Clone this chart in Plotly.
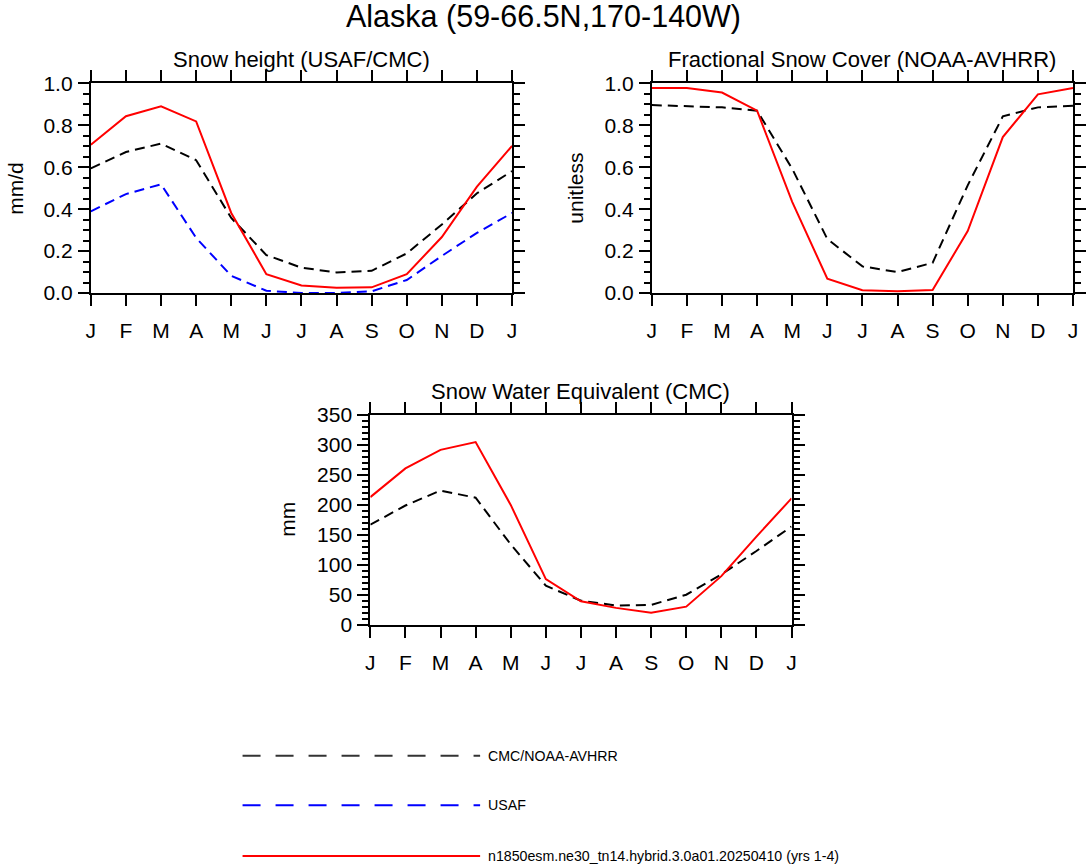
import plotly.graph_objs as go

# months on the x axis (Jan repeated at the end, as in the original diagnostics plot)
months = ['J', 'F', 'M', 'A', 'M', 'J', 'J', 'A', 'S', 'O', 'N', 'D', 'J']
month_idx = list(range(13))

# Snow height (USAF/CMC), mm/d
snowh_model = [0.708, 0.844, 0.891, 0.819, 0.382, 0.090, 0.036, 0.025, 0.027, 0.090, 0.267, 0.508, 0.702]
snowh_cmc = [0.595, 0.673, 0.713, 0.634, 0.358, 0.181, 0.121, 0.098, 0.106, 0.189, 0.327, 0.476, 0.582]
snowh_usaf = [0.390, 0.472, 0.519, 0.263, 0.082, 0.011, 0.0, 0.0, 0.008, 0.062, 0.177, 0.287, 0.382]

# Fractional snow cover (NOAA-AVHRR), unitless
fsno_model = [0.978, 0.978, 0.957, 0.870, 0.435, 0.068, 0.013, 0.008, 0.014, 0.296, 0.744, 0.948, 0.978]
fsno_obs = [0.897, 0.891, 0.886, 0.870, 0.593, 0.258, 0.127, 0.100, 0.144, 0.514, 0.843, 0.886, 0.894]

# Snow water equivalent (CMC), mm
swe_model = [213, 261, 292, 305, 200, 76, 39, 28, 20, 30, 81, 147, 211]
swe_cmc = [167, 199, 224, 212, 134, 65, 40, 32, 33, 50, 84, 123, 164]

legend_labels = ['CMC/NOAA-AVHRR', 'USAF', 'n1850esm.ne30_tn14.hybrid.3.0a01.20250410 (yrs 1-4)']

W, H = 1086, 866
FONT = 'Liberation Sans, Arial, Helvetica, sans-serif'

# paper area as it lands on the page (measured with a test border)
PX0, PX1 = 3.0, 1080.0
PY0, PY1 = 9.0, 858.0


def px_x(x):
    return (x - PX0) / (PX1 - PX0)


def px_y(y):
    return 1 - (y - PY0) / (PY1 - PY0)


def xaxis(ydom_anchor, left, right):
    return dict(domain=[px_x(left), px_x(right)], anchor=ydom_anchor, range=[0, 12],
                tickvals=month_idx, ticktext=months, ticks='outside', ticklen=11,
                tickwidth=2, tickcolor='black', showline=True, linewidth=2,
                linecolor='black', mirror='ticks', showgrid=False, zeroline=False,
                tickfont=dict(size=21, color='black', family=FONT),
                ticklabelstandoff=7)


def yaxis(xdom_anchor, top, bottom, yrange, dtick, minor, fmt):
    return dict(domain=[px_y(bottom), px_y(top)], anchor=xdom_anchor, range=yrange,
                dtick=dtick, tick0=0, tickformat=fmt, ticks='outside', ticklen=11,
                tickwidth=2, tickcolor='black', showline=True, linewidth=2,
                linecolor='black', mirror='ticks', showgrid=False, zeroline=False,
                tickfont=dict(size=21, color='black', family=FONT),
                ticklabelstandoff=1,
                minor=dict(dtick=minor, tick0=0, ticks='outside', ticklen=6,
                           tickwidth=1.5, tickcolor='black', showgrid=False))


def line(x, y, color, dash, xa, ya, width=2):
    return go.Scatter(x=x, y=y, mode='lines', xaxis=xa, yaxis=ya, showlegend=False,
                      line=dict(color=color, width=width, dash=dash), hoverinfo='skip')


obs_dash = '10px,6px'

data = [
    # panel 1
    line(month_idx, snowh_cmc, 'black', obs_dash, 'x', 'y'),
    line(month_idx, snowh_usaf, 'blue', obs_dash, 'x', 'y'),
    line(month_idx, snowh_model, 'red', 'solid', 'x', 'y'),
    # panel 2
    line(month_idx, fsno_obs, 'black', obs_dash, 'x2', 'y2'),
    line(month_idx, fsno_model, 'red', 'solid', 'x2', 'y2'),
    # panel 3
    line(month_idx, swe_cmc, 'black', obs_dash, 'x3', 'y3'),
    line(month_idx, swe_model, 'red', 'solid', 'x3', 'y3'),
]

layout = dict(
    width=W, height=H, margin=dict(l=0, r=0, t=0, b=0),
    paper_bgcolor='white', plot_bgcolor='white',
    font=dict(family=FONT, color='black'),
    xaxis=xaxis('y', 89, 511),
    yaxis=yaxis('x', 81, 292, [0, 1], 0.2, 0.05, '.1f'),
    xaxis2=xaxis('y2', 651, 1073),
    yaxis2=yaxis('x2', 81, 292, [0, 1], 0.2, 0.05, '.1f'),
    xaxis3=xaxis('y3', 369, 791),
    yaxis3=yaxis('x3', 415, 626, [0, 350], 50, 10, 'd'),
)

# titles and axis labels as annotations
ann = []


def text(x, y, s, size, angle=0, xanchor='center'):
    ann.append(dict(x=px_x(x), y=px_y(y), xref='paper', yref='paper', text=s,
                    showarrow=False, textangle=angle, xanchor=xanchor, yanchor='middle',
                    font=dict(size=size, color='black', family=FONT)))


text(543, 14, 'Alaska (59-66.5N,170-140W)', 30.5)
text(300, 57, 'Snow height (USAF/CMC)', 22)
text(862, 57, 'Fractional Snow Cover (NOAA-AVHRR)', 22)
text(580, 391, 'Snow Water Equivalent (CMC)', 22)
text(14, 186, 'mm/d', 21, -90)
text(575, 186, 'unitless', 21, -90)
text(286, 520, 'mm', 21, -90)

# legend drawn below the panels, NCL style
leg_colors = ['#333333', 'blue', 'red']
leg_dash = ['18px,15px', '18px,15px', 'solid']
leg_y = [758, 808, 859]
shapes = []
for lab, c, d, y in zip(legend_labels, leg_colors, leg_dash, leg_y):
    shapes.append(dict(type='line', xref='paper', yref='paper', x0=px_x(241), x1=px_x(479),
                       y0=px_y(y), y1=px_y(y), line=dict(color=c, width=2, dash=d)))
    text(485, y, lab, 14.2, xanchor='left')

layout['annotations'] = ann
layout['shapes'] = shapes

fig = go.Figure(data=data, layout=layout)
fig.write_html("out.html", config={'displayModeBar': False},
               post_script="document.body.style.margin='0px';document.body.style.overflow='hidden';")
